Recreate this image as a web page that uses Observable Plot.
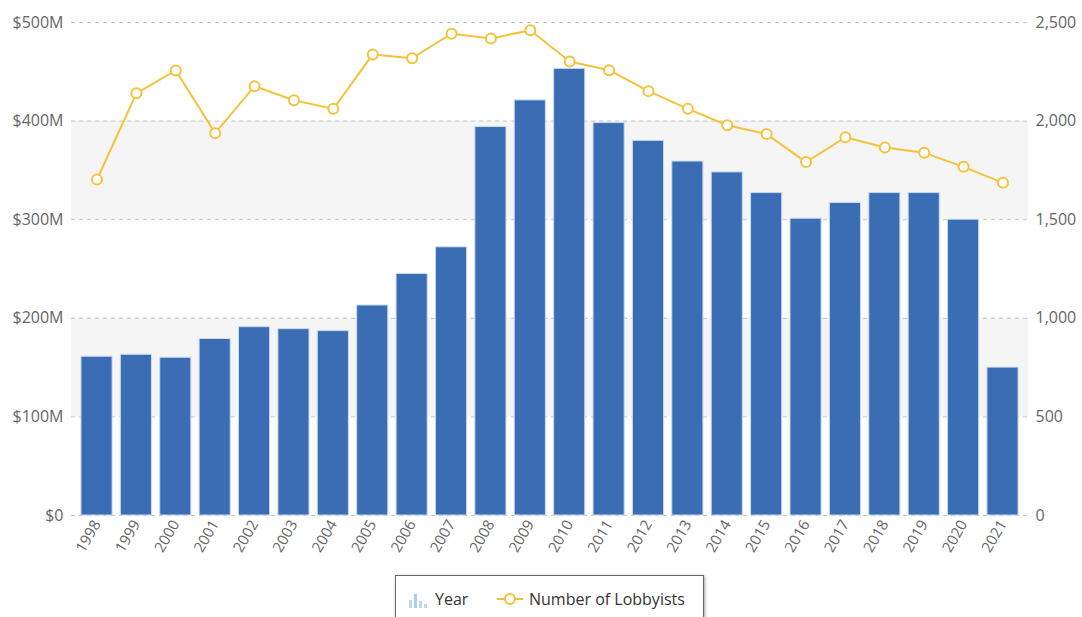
<!DOCTYPE html>
<html>
<head>
<meta charset="utf-8">
<script src="https://cdn.jsdelivr.net/npm/d3@7"></script>
<script src="https://cdn.jsdelivr.net/npm/@observablehq/plot@0.6"></script>
<style>
  html, body { margin: 0; padding: 0; background: #fff; }
  body { width: 1082px; height: 617px; overflow: hidden; position: relative; font-family: "Open Sans", sans-serif; }
  #chart { position: absolute; left: 0; top: 0; }
  #legend {
    position: absolute; left: 395px; top: 575px; width: 309px; height: 50px;
    border: 1px solid #666; box-shadow: 1px 1px 3px rgba(0,0,0,0.35);
    background: #fff; box-sizing: border-box;
    font-size: 16px; color: #333;
  }
  #legend .item { position: absolute; top: 13px; line-height: 20px; }
</style>
</head>
<body>
<div id="chart"></div>
<div id="legend">
  <svg width="26" height="20" style="position:absolute;left:10px;top:13px">
    <rect x="3" y="11" width="3" height="8" fill="#bcd7f2"/>
    <rect x="8" y="5" width="3" height="14" fill="#a9ccee"/>
    <rect x="13" y="12" width="3" height="7" fill="#bcd7f2"/>
    <rect x="18" y="15" width="3" height="4" fill="#bcd7f2"/>
  </svg>
  <span class="item" style="left:39px">Year</span>
  <svg width="30" height="20" style="position:absolute;left:99px;top:13px">
    <line x1="2" y1="10" x2="28" y2="10" stroke="#f5c33b" stroke-width="2"/>
    <circle cx="15" cy="10" r="5" fill="#fff" stroke="#f5c33b" stroke-width="2"/>
  </svg>
  <span class="item" style="left:133px">Number of Lobbyists</span>
</div>
<script>
const years = ["1998","1999","2000","2001","2002","2003","2004","2005","2006","2007","2008","2009","2010","2011","2012","2013","2014","2015","2016","2017","2018","2019","2020","2021"];
const spendingM = [161,163,160,179,191,189,187,213,245,272,394,421,453,398,380,359,348,327,301,317,327,327,300,150];
const lobbyists = [1704,2141,2257,1939,2177,2106,2062,2338,2319,2443,2419,2461,2302,2258,2152,2062,1979,1934,1792,1918,1866,1839,1768,1687];
const leftTicks = [0,100,200,300,400,500];
const rightTicks = [0,500,1000,1500,2000,2500];
const bands = [[100,200],[300,400]];

// right axis maps 0..2500 onto the left 0..500 ($M)
const ratio = 500 / 2500;

const rows = years.map((y, i) => ({year: y, spend: spendingM[i], lob: lobbyists[i], lobScaled: lobbyists[i] * ratio}));

const fontFamily = "'Open Sans', sans-serif";

const chart = Plot.plot({
  width: 1082,
  height: 560,
  marginTop: 22,
  marginBottom: 45,
  marginLeft: 71,
  marginRight: 54,
  style: {fontFamily, fontSize: "16px", color: "#666", background: "transparent"},
  x: {type: "band", domain: years, paddingInner: 0.21, paddingOuter: 0.1, round: false, insetLeft: 6, insetRight: 6, label: null},
  y: {domain: [0, 500], label: null},
  marks: [
    Plot.rect(bands, {y1: d => d[0], y2: d => d[1], fill: "#f5f5f5"}),
    Plot.ruleY(leftTicks, {stroke: "#c4c4c4", strokeDasharray: "4,4", strokeWidth: 1}),
    Plot.barY(rows, {x: "year", y: "spend", fill: "#3b6db4", stroke: "#c9dbf0", strokeWidth: 1}),
    Plot.line(rows, {x: "year", y: "lobScaled", stroke: "#f5c33b", strokeWidth: 2}),
    Plot.dot(rows, {x: "year", y: "lobScaled", r: 5, fill: "#fff", stroke: "#f5c33b", strokeWidth: 2}),
    Plot.axisY(leftTicks, {anchor: "left", tickSize: 0, tickPadding: 8, tickFormat: d => d === 0 ? "$0" : "$" + d + "M", fill: "#666", fontSize: 16, label: null}),
    Plot.axisY(rightTicks.map(v => v * ratio), {anchor: "right", tickSize: 0, tickPadding: 7, tickFormat: d => d3.format(",")(Math.round(d / ratio)), fill: "#666", fontSize: 16, label: null}),
    Plot.axisX({tickSize: 0, tickPadding: 6, tickRotate: -60, fill: "#666", fontSize: 15, label: null})
  ]
});
document.getElementById("chart").appendChild(chart);
</script>
</body>
</html>
